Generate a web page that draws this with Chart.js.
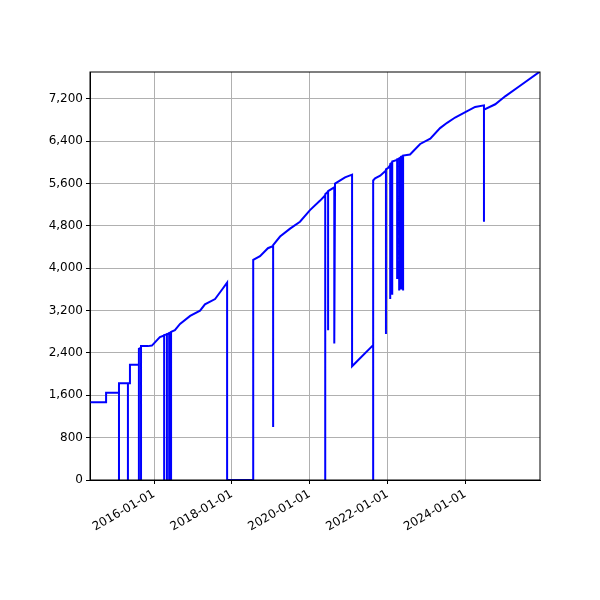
<!DOCTYPE html>
<html>
<head>
<meta charset="utf-8">
<script src="https://cdn.jsdelivr.net/npm/chart.js@4"></script>
<style>
  body { margin: 0; background: #fff; }
  #wrap { width: 600px; height: 600px; }
</style>
</head>
<body>
<div id="wrap"><canvas id="chart" width="600" height="600"></canvas></div>
<script>
// Dates and values (vertical drops = repeated date)
const dates = [
  '2014-05-10', '2014-10-08', '2014-10-08', '2015-02-06', '2015-02-06', '2015-02-06',
  '2015-05-01', '2015-05-01', '2015-05-01', '2015-05-20', '2015-05-20',
  '2015-08-12', '2015-08-12', '2015-08-12', '2015-09-01', '2015-09-01', '2015-09-01',
  '2015-11-05', '2015-12-12', '2016-02-25',
  '2016-04-05', '2016-04-05', '2016-04-05', '2016-05-01', '2016-05-01', '2016-05-01',
  '2016-05-22', '2016-05-22', '2016-05-22', '2016-06-09', '2016-06-09', '2016-06-09',
  '2016-07-15', '2016-09-01', '2016-12-05', '2017-03-08', '2017-04-23', '2017-07-27',
  '2017-10-01', '2017-11-17', '2017-11-17', '2018-07-20', '2018-07-20',
  '2018-09-22', '2018-12-05', '2019-01-23', '2019-01-23', '2019-01-23',
  '2019-03-29', '2019-07-01', '2019-10-02', '2020-01-04', '2020-04-08',
  '2020-05-26', '2020-05-26', '2020-05-26', '2020-06-22', '2020-06-22', '2020-06-22',
  '2020-08-19', '2020-08-19', '2020-08-26', '2020-11-28', '2021-02-02', '2021-02-02',
  '2021-08-19', '2021-08-19', '2021-08-19', '2021-09-06', '2021-10-24',
  '2021-12-17', '2021-12-17', '2021-12-17', '2022-01-08',
  '2022-01-26', '2022-01-26', '2022-01-26', '2022-02-14', '2022-02-14', '2022-02-14',
  '2022-04-01', '2022-04-01', '2022-04-01', '2022-04-20', '2022-04-20', '2022-04-20',
  '2022-05-08', '2022-05-08', '2022-05-08', '2022-05-27', '2022-05-27', '2022-05-27',
  '2022-07-31', '2022-11-03', '2023-02-06', '2023-05-09', '2023-07-14', '2023-09-27',
  '2024-01-01', '2024-04-02', '2024-06-24', '2024-06-24', '2024-06-24',
  '2024-10-08', '2025-01-09', '2025-05-29', '2025-12-02'
];
const values = [
  1470, 1470, 1650, 1650, 0, 1830,
  1830, 0, 1830, 1830, 2180,
  2180, 0, 2480, 2500, 0, 2530,
  2530, 2540, 2700,
  2730, 0, 2740, 2750, 0, 2760,
  2770, 0, 2780, 2790, 0, 2800,
  2830, 2950, 3100, 3200, 3320, 3420,
  3600, 3730, 0, 0, 4160,
  4230, 4380, 4420, 1000, 4440,
  4600, 4750, 4880, 5100, 5280,
  5380, 0, 5400, 5450, 2830, 5460,
  5530, 2580, 5600, 5720, 5770, 2150,
  2550, 0, 5660, 5700, 5750,
  5850, 2760, 5870, 5900,
  5950, 3420, 5970, 6000, 3500, 6020,
  6050, 3800, 6060, 6070, 3580, 6080,
  6100, 3600, 6110, 6120, 3580, 6130,
  6150, 6350, 6450, 6650, 6750, 6850,
  6950, 7050, 7080, 4880, 7000,
  7100, 7250, 7450, 7720
];
const yearTicks = [2016, 2018, 2020, 2022, 2024];

const toMs = d => Date.parse(d + 'T00:00:00Z');
const points = dates.map((d, i) => ({ x: toMs(d), y: values[i] }));

const frame = {
  id: 'frame',
  afterDraw(c) {
    const a = c.chartArea, ctx = c.ctx;
    ctx.save();
    ctx.strokeStyle = '#000';
    ctx.lineWidth = 1;
    ctx.strokeRect(a.left, a.top, a.right - a.left, a.bottom - a.top);
    ctx.restore();
  }
};

new Chart(document.getElementById('chart'), {
  type: 'line',
  data: {
    datasets: [{
      data: points,
      borderColor: '#0000ff',
      borderWidth: 2,
      pointRadius: 0,
      tension: 0,
      fill: false
    }]
  },
  options: {
    responsive: false,
    animation: false,
    layout: { padding: { left: 0, right: 60, top: 72, bottom: 0 } },
    plugins: { legend: { display: false }, tooltip: { enabled: false } },
    scales: {
      x: {
        type: 'linear',
        min: toMs('2014-05-10'),
        max: toMs('2025-12-02'),
        afterBuildTicks: s => { s.ticks = yearTicks.map(y => ({ value: Date.UTC(y, 0, 1) })); },
        afterFit: s => { s.height = 120; },
        ticks: {
          minRotation: 30, maxRotation: 30, color: '#000',
          font: { family: 'DejaVu Sans', size: 12 },
          callback: v => new Date(v).toISOString().slice(0, 10)
        },
        grid: { color: '#b0b0b0', tickColor: '#000', tickLength: 4 },
        border: { color: '#000' }
      },
      y: {
        min: 0, max: 7710,
        afterFit: s => { s.width = 90; },
        afterBuildTicks: s => { s.ticks = [0, 800, 1600, 2400, 3200, 4000, 4800, 5600, 6400, 7200].map(v => ({ value: v })); },
        ticks: { color: '#000', font: { family: 'DejaVu Sans', size: 12 } },
        grid: { color: '#b0b0b0', tickColor: '#000', tickLength: 4 },
        border: { color: '#000' }
      }
    }
  },
  plugins: [frame]
});
</script>
</body>
</html>
